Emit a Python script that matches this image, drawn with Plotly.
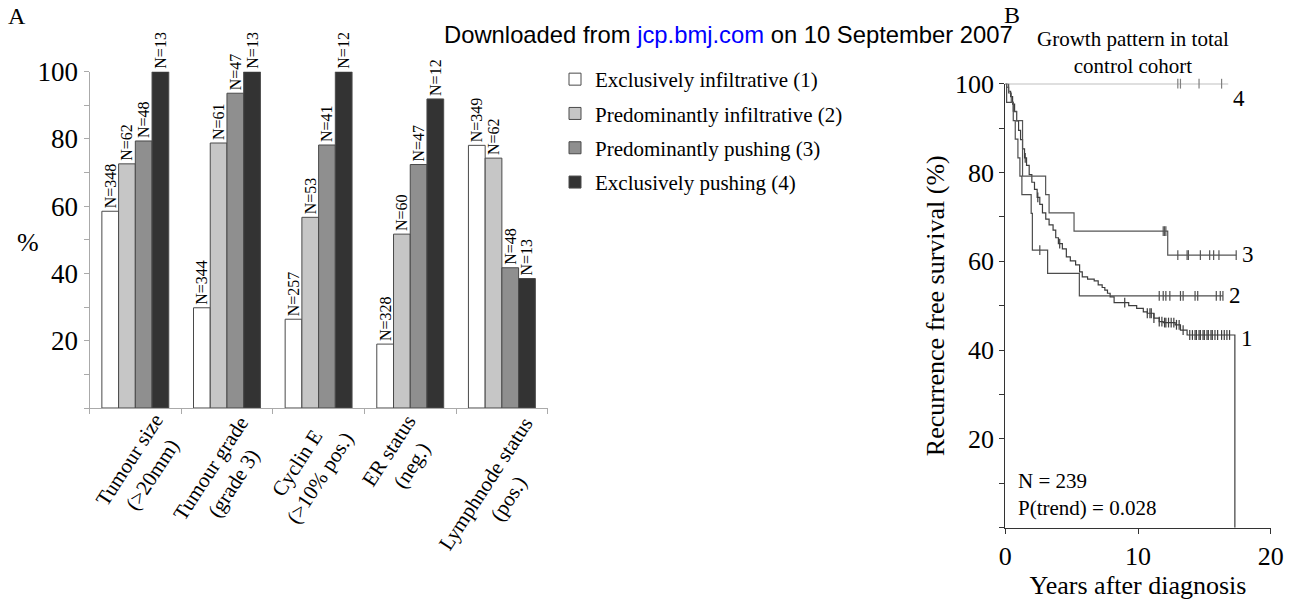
import numpy as np
import plotly.graph_objects as go

W, H = 1291, 600
SERIF = "Liberation Serif"
SANS = "Liberation Sans"


def fx(X):
    return X / W


def fy(Y):
    return 1 - Y / H


# ---------------- Panel A data ----------------
categories = ["Tumour size<br>(>20mm)", "Tumour grade<br>(grade 3)", "Cyclin E<br>(>10% pos.)",
              "ER status<br>(neg.)", "Lymphnode status<br>(pos.)"]
series_names = ["Exclusively infiltrative (1)", "Predominantly infiltrative (2)",
                "Predominantly pushing (3)", "Exclusively pushing (4)"]
pct_excl_infiltr = [58.5, 29.8, 26.4, 19.0, 78.1]
pct_pred_infiltr = [72.6, 78.8, 56.7, 51.7, 74.3]
pct_pred_push = [79.4, 93.6, 78.2, 72.4, 41.7]
pct_excl_push = [100, 100, 100, 91.9, 38.5]
n_excl_infiltr = [348, 344, 257, 328, 349]
n_pred_infiltr = [62, 61, 53, 60, 62]
n_pred_push = [48, 47, 41, 47, 48]
n_excl_push = [13, 13, 12, 12, 13]

# ---------------- Panel B data (Kaplan-Meier) ----------------
km1_t = [0, 0.1, 0.25, 0.4, 0.55, 0.7, 0.85, 1.0, 1.15, 1.3, 1.45, 1.6, 1.8, 2.0, 2.2, 2.4, 2.6, 2.8,
         3.05, 3.3, 3.6, 3.8, 4.0, 4.3, 4.6, 4.9, 5.3, 5.6, 5.8, 6.2, 6.7, 7.0, 7.3, 7.5, 7.7, 7.9,
         8.2, 9.3, 9.9, 10.4, 10.7, 11.2, 11.6, 11.9, 12.8, 13.2, 13.7, 17.3]
km1_s = [100, 99.2, 98.3, 97.1, 95.4, 93.7, 91.6, 89.5, 87.4, 85.3, 83.3, 81.6, 79.5, 77.8, 76.2,
         74.4, 72.8, 70.9, 69.5, 68.2, 67.0, 65.3, 64.0, 62.8, 61.0, 60.1, 59.2, 57.6, 56.5, 56.0,
         55.6, 54.7, 54.1, 53.5, 52.8, 52.0, 50.7, 50.0, 49.4, 48.6, 48.3, 47.2, 46.4, 46.2, 45.7,
         44.5, 43.4, 0]
km1_cens = [1.5, 2.45, 4.1, 9.0, 10.7, 10.9, 11.0, 11.2, 11.6, 11.8, 12.0, 12.1, 12.3, 12.5, 12.7,
            12.9, 13.1, 13.4, 13.9, 14.1, 14.3, 14.4, 14.6, 14.7, 14.9, 15.0, 15.2, 15.3, 15.5,
            15.6, 15.8, 16.0, 16.3, 16.5, 16.7, 16.9]
km1_end = 17.3

km2_t = [0, 0.1, 0.6, 0.75, 0.95, 1.1, 1.25, 1.95, 2.04, 3.19, 5.58]
km2_s = [100, 95.8, 91.7, 87.5, 83.3, 79.2, 75.0, 70.8, 62.5, 57.3, 52.2]
km2_cens = [2.6, 11.6, 11.9, 12.1, 12.4, 13.2, 13.4, 14.3, 14.5, 15.9, 16.2, 16.4]
km2_end = 16.4

km3_t = [0, 0.25, 0.45, 0.6, 0.85, 1.3, 3.04, 3.3, 5.18, 12.24]
km3_s = [100, 97.9, 95.8, 93.8, 91.7, 79.2, 75.0, 70.9, 66.8, 61.4]
km3_cens = [11.9, 12.0, 12.1, 13.0, 13.7, 13.8, 14.7, 15.4, 15.7, 16.1, 17.4]
km3_end = 17.4

km4_t = [0]
km4_s = [100]
km4_cens = [13.0, 13.2, 14.6, 16.3]
km4_end = 16.8

curve_labels = ["1", "2", "3", "4"]
curve_label_pos = [(18.2, 42.7), (17.3, 52.2), (18.3, 61.6), (17.6, 96.6)]

# ---------------- styling ----------------
fills = ["#ffffff", "#c6c6c6", "#8f8f8f", "#333333"]
edge = "#4a4a4a"
curve_cols = ["#3d3d3d", "#4d4d4d", "#555555", "#808080"]

fig = go.Figure()

bar_vals = [pct_excl_infiltr, pct_pred_infiltr, pct_pred_push, pct_excl_push]
bar_ns = [n_excl_infiltr, n_pred_infiltr, n_pred_push, n_excl_push]
for i, (name, vals, ns) in enumerate(zip(series_names, bar_vals, bar_ns)):
    fig.add_trace(go.Bar(
        x=categories, y=vals, name=name, customdata=ns,
        texttemplate="N=%{customdata}", textposition="outside", textangle=-90,
        textfont=dict(family=SERIF, size=16, color="black"),
        constraintext="none", cliponaxis=False,
        marker=dict(color=fills[i], line=dict(color=edge, width=1)),
        legendgroup=str(i), xaxis="x", yaxis="y", hoverinfo="skip"))


def km_line(t, s, end):
    return list(t) + [end], list(s) + [s[-1]]


def level_at(t, s, times):
    t = np.asarray(t)
    s = np.asarray(s)
    idx = np.searchsorted(t, np.asarray(times), side="right") - 1
    return s[idx]


km_sets = [(km1_t, km1_s, km1_cens, km1_end), (km2_t, km2_s, km2_cens, km2_end),
           (km3_t, km3_s, km3_cens, km3_end), (km4_t, km4_s, km4_cens, km4_end)]
for (t, s, cens, end), col in zip(km_sets, curve_cols):
    lx, ly = km_line(t, s, end)
    fig.add_trace(go.Scatter(x=lx, y=ly, mode="lines", line=dict(color=col, width=1.2, shape="hv"),
                             xaxis="x2", yaxis="y2", showlegend=False, cliponaxis=False, hoverinfo="skip"))
    cy = level_at(t, s, cens)
    fig.add_trace(go.Scatter(x=cens, y=cy, mode="markers",
                             marker=dict(symbol="line-ns", size=7, line=dict(color=col, width=1.2)),
                             xaxis="x2", yaxis="y2", showlegend=False, cliponaxis=False, hoverinfo="skip"))

annotations = []
# category labels (rotated)
label_dx = [5, -5, -10.5, -10.7, -5.4]
label_cy = [467, 475, 470, 458, 491]
for cat, dx, cy in zip(categories, label_dx, label_cy):
    annotations.append(dict(x=cat, xref="x", y=fy(cy), yref="paper", text=cat, showarrow=False,
                            textangle=-57, xanchor="center", yanchor="middle", xshift=dx, align="center",
                            font=dict(family=SERIF, size=21, color="black")))

annotations += [
    dict(x=fx(17), y=fy(16), xref="paper", yref="paper", text="A", showarrow=False,
         font=dict(family=SERIF, size=24, color="black"), xanchor="center", yanchor="middle"),
    dict(x=fx(1012), y=fy(14.5), xref="paper", yref="paper", text="B", showarrow=False,
         font=dict(family=SERIF, size=24, color="black"), xanchor="center", yanchor="middle"),
    dict(x=fx(728), y=fy(34.5), xref="paper", yref="paper",
         text="Downloaded from <span style='color:#0000ff'>jcp.bmj.com</span> on 10 September 2007",
         showarrow=False, font=dict(family=SANS, size=23.8, color="black"), xanchor="center", yanchor="middle"),
    dict(x=fx(28), y=fy(242), xref="paper", yref="paper", text="%", showarrow=False,
         font=dict(family=SERIF, size=26, color="black"), xanchor="center", yanchor="middle"),
    dict(x=fx(1133), y=fy(52.5), xref="paper", yref="paper",
         text="Growth pattern in total<br>control cohort", showarrow=False, align="center",
         font=dict(family=SERIF, size=21, color="black"), xanchor="center", yanchor="middle"),
    dict(x=fx(1016), y=fy(494.7), xref="paper", yref="paper",
         text="N = 239<br>P(trend) = 0.028", showarrow=False, align="left",
         font=dict(family=SERIF, size=21, color="black"), xanchor="left", yanchor="middle"),
]
for lab, (lx, ly) in zip(curve_labels, curve_label_pos):
    annotations.append(dict(x=lx, y=ly, xref="x2", yref="y2", text=lab, showarrow=False,
                            font=dict(family=SERIF, size=23, color="black"),
                            xanchor="center", yanchor="middle"))

fig.update_layout(
    width=W, height=H, autosize=False,
    margin=dict(l=0, r=0, t=0, b=0, pad=0, autoexpand=False),
    paper_bgcolor="white", plot_bgcolor="white",
    barmode="group", bargap=0.27, bargroupgap=0,
    font=dict(family=SERIF, color="black"),
    showlegend=True,
    legend=dict(x=fx(555), y=fy(59), xanchor="left", yanchor="top",
                font=dict(family=SERIF, size=21, color="black"), traceorder="grouped",
                tracegroupgap=4, bgcolor="rgba(0,0,0,0)", itemclick=False, itemdoubleclick=False),
    xaxis=dict(domain=[fx(89.5), fx(547.7)], type="category", range=[-0.5, 4.5], automargin=False,
               showline=True, linecolor="#aaaaaa", linewidth=1, ticks="outside", tickson="boundaries",
               ticklen=5, tickcolor="#aaaaaa", showticklabels=False, showgrid=False, zeroline=False,
               fixedrange=True),
    yaxis=dict(domain=[fy(408), fy(71.7)], range=[0, 100], showline=True, automargin=False,
               linecolor="#aaaaaa", linewidth=1, ticks="outside", ticklen=5, tickcolor="#aaaaaa",
               tickvals=[20, 40, 60, 80, 100], tickfont=dict(family=SERIF, size=27, color="black"),
               minor=dict(tickvals=[0, 10, 30, 50, 70, 90], ticks="outside", ticklen=5, tickcolor="#aaaaaa"),
               showgrid=False, zeroline=False, fixedrange=True),
    xaxis2=dict(domain=[fx(1005.3), fx(1270.7)], range=[0, 20], anchor="y2", showline=True, automargin=False,
                linecolor="#333333", linewidth=1, ticks="outside", ticklen=5, tickcolor="#333333",
                tickvals=[0, 10, 20], tickfont=dict(family=SERIF, size=26, color="black"),
                title=dict(text="Years after diagnosis", font=dict(family=SERIF, size=26, color="black"),
                           standoff=12),
                showgrid=False, zeroline=False, fixedrange=True),
    yaxis2=dict(domain=[fy(527.7), fy(83.7)], range=[0, 100], anchor="x2", showline=True,
                automargin=False,
                linecolor="#333333", linewidth=1, ticks="outside", ticklen=5, tickcolor="#333333",
                tickvals=[20, 40, 60, 80, 100], tickfont=dict(family=SERIF, size=26, color="black"),
                minor=dict(tickvals=[0, 10, 30, 50, 70, 90], ticks="outside", ticklen=5, tickcolor="#333333"),
                title=dict(text="Recurrence free survival (%)", font=dict(family=SERIF, size=26, color="black"),
                           standoff=2),
                showgrid=False, zeroline=False, fixedrange=True),
    annotations=annotations,
)

# remove the browser's default 8px page margin so the 1291x600 figure fills the window
fig.write_html("out.html", config={"displayModeBar": False},
               post_script="document.body.style.margin='0px';")
